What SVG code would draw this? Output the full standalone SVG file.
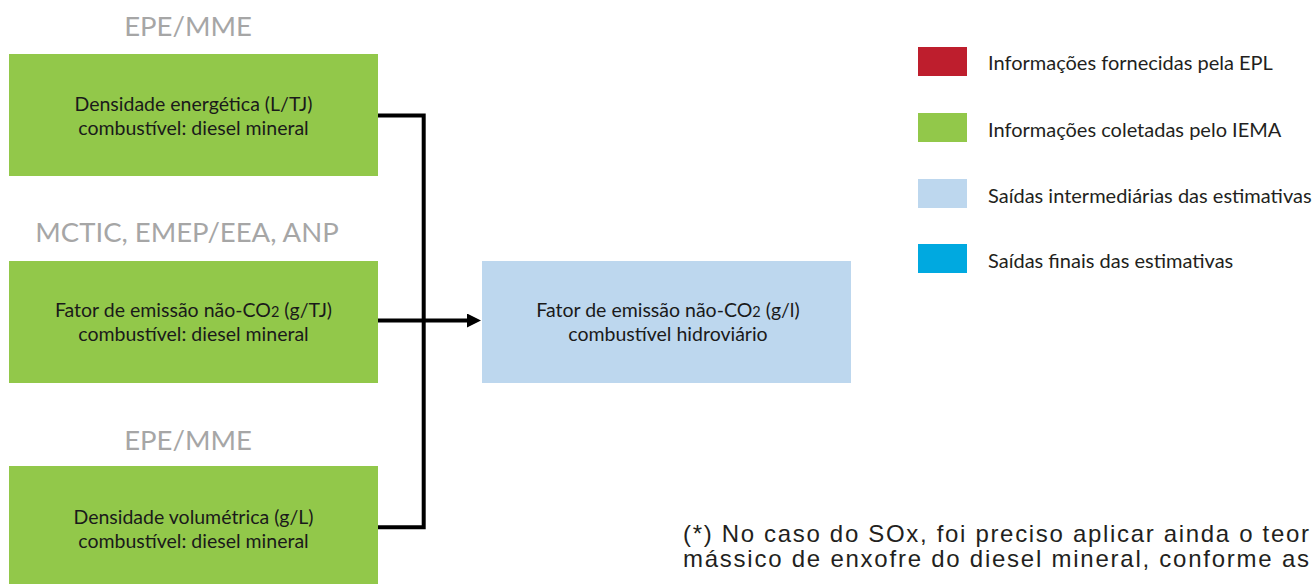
<svg xmlns="http://www.w3.org/2000/svg" width="1312" height="584" viewBox="0 0 1312 584">
<style>
.src{font-family:Lato,"Open Sans",sans-serif;font-size:27.5px;fill:#a6a6a6;text-anchor:middle}
.bt{font-family:Lato,"Open Sans",sans-serif;font-size:19.5px;fill:#1a1a1a;text-anchor:middle}
.lg{font-family:Lato,"Open Sans",sans-serif;font-size:20px;fill:#231f20}
.green{fill:#92c84a}
.lblue{fill:#bdd7ee}
.conn{fill:none;stroke:#000;stroke-width:4}
.note{font-family:"Liberation Sans",Arial,sans-serif;font-size:24px;fill:#231f20}
</style>
<defs>
<marker id="ah" markerUnits="userSpaceOnUse" viewBox="0 0 14 14" refX="1" refY="7" markerWidth="14" markerHeight="14" orient="auto">
<path d="M0,0 L14,7 L0,14 z" fill="#000"/>
</marker>
</defs>

<text class="src" x="188" y="36">EPE/MME</text>
<text class="src" x="187" y="242">MCTIC, EMEP/EEA, ANP</text>
<text class="src" x="188" y="450">EPE/MME</text>

<g id="n1">
<rect class="green" x="9" y="54" width="369" height="122"/>
<text class="bt" x="193.5" y="111">Densidade energética (L/TJ)</text>
<text class="bt" x="193.5" y="135">combustível: diesel mineral</text>
</g>

<g id="n2">
<rect class="green" x="9" y="261" width="369" height="122"/>
<text class="bt" x="193.5" y="317">Fator de emissão não-CO<tspan font-size="14.5">2</tspan> (g/TJ)</text>
<text class="bt" x="193.5" y="341">combustível: diesel mineral</text>
</g>

<g id="n3">
<rect class="green" x="9" y="466" width="369" height="130"/>
<text class="bt" x="193.5" y="524">Densidade volumétrica (g/L)</text>
<text class="bt" x="193.5" y="548">combustível: diesel mineral</text>
</g>

<g id="n4">
<rect class="lblue" x="482" y="261" width="369" height="122"/>
<text class="bt" x="668" y="317">Fator de emissão não-CO<tspan font-size="14.5">2</tspan> (g/l)</text>
<text class="bt" x="668" y="341">combustível hidroviário</text>
</g>

<g id="connectors">
<path class="conn" d="M378,115.5 H423.7 V527.3 H378"/>
<path class="conn" d="M378,320.5 H468" marker-end="url(#ah)"/>
</g>

<g id="legend">
<rect x="918" y="47" width="49" height="29" fill="#be1e2d"/>
<text class="lg" x="988" y="70">Informações fornecidas pela EPL</text>
<rect class="green" x="918" y="113" width="49" height="29"/>
<text class="lg" x="988" y="136.5">Informações coletadas pelo IEMA</text>
<rect class="lblue" x="918" y="179" width="49" height="29"/>
<text class="lg" x="988" y="202.5">Saídas intermediárias das estimativas</text>
<rect x="918" y="244" width="49" height="29" fill="#00a9e0"/>
<text class="lg" x="988" y="268">Saídas finais das estimativas</text>
</g>

<g id="note">
<text class="note" x="683" y="542" textLength="626" lengthAdjust="spacing">(*) No caso do SOx, foi preciso aplicar ainda o teor</text>
<text class="note" x="683" y="567" textLength="626" lengthAdjust="spacing">mássico de enxofre do diesel mineral, conforme as</text>
</g>
</svg>
